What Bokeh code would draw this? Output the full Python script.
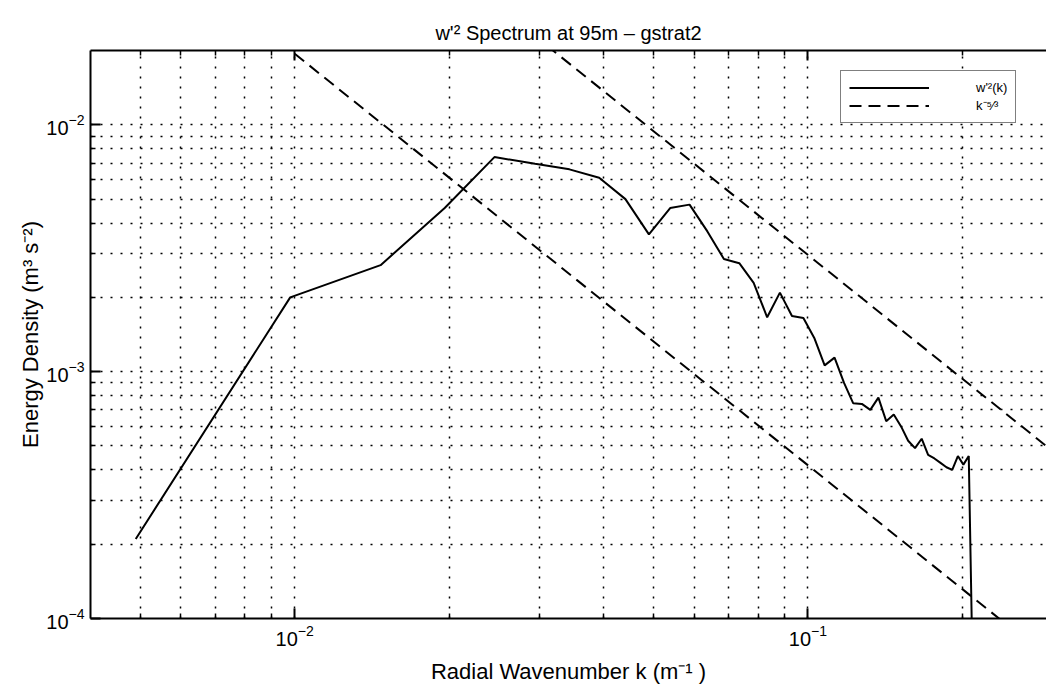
from bokeh.plotting import figure
from bokeh.models import (Range1d, FixedTicker, LogAxis, LogTickFormatter,
                          Legend, LegendItem)
from bokeh.embed import file_html
from bokeh.resources import INLINE

# Vertical velocity variance spectrum, 95 m level (run gstrat2)
wavenumber = [0.0049, 0.0098, 0.0147, 0.0196, 0.0245, 0.0294, 0.0343, 0.0392,
              0.0441, 0.0490, 0.0539, 0.0588, 0.0637, 0.0686, 0.0735, 0.0784,
              0.0833, 0.0882, 0.0931, 0.0980, 0.1029, 0.1078, 0.1127, 0.1176,
              0.1225, 0.1274, 0.1323, 0.1372, 0.1421, 0.1470, 0.1519, 0.1568,
              0.1617, 0.1666, 0.1715, 0.1764, 0.1813, 0.1862, 0.1911, 0.1960,
              0.2009, 0.2058, 0.2107]
energy = [2.1e-4, 2.0e-3, 2.7e-3, 4.6e-3, 7.4e-3, 6.95e-3, 6.6e-3, 6.1e-3,
          5.0e-3, 3.6e-3, 4.6e-3, 4.75e-3, 3.7e-3, 2.86e-3, 2.75e-3, 2.29e-3,
          1.66e-3, 2.09e-3, 1.68e-3, 1.65e-3, 1.37e-3, 1.06e-3, 1.14e-3, 9.0e-4,
          7.45e-4, 7.4e-4, 7.0e-4, 7.85e-4, 6.3e-4, 6.7e-4, 6.0e-4, 5.25e-4,
          4.9e-4, 5.35e-4, 4.6e-4, 4.45e-4, 4.27e-4, 4.1e-4, 4.0e-4, 4.55e-4,
          4.2e-4, 4.55e-4, 3.0e-5]

# k^-5/3 reference slopes (end points of each straight line)
ref_k = [0.01, 0.3]
ref_lower = [1.94e-2, 6.69e-5]
ref_upper = [1.38e-1, 4.76e-4]

x_major = [0.01, 0.1]
x_minor = [0.005, 0.006, 0.007, 0.008, 0.009,
           0.02, 0.03, 0.04, 0.05, 0.06, 0.07, 0.08, 0.09, 0.2]
y_major = [1e-4, 1e-3, 1e-2]
y_minor = [2e-4, 3e-4, 4e-4, 5e-4, 6e-4, 7e-4, 8e-4, 9e-4,
           2e-3, 3e-3, 4e-3, 5e-3, 6e-3, 7e-3, 8e-3, 9e-3]

FONT = "Liberation Sans"

p = figure(width=1046, height=692, x_axis_type="log", y_axis_type="log",
           x_range=Range1d(0.004, 0.2917), y_range=Range1d(1e-4, 0.02),
           output_backend="svg", toolbar_location=None,
           min_border_left=90, min_border_right=0,
           min_border_top=50, min_border_bottom=74)
p.outline_line_color = None
p.background_fill_color = "white"
p.border_fill_color = "white"

p.title.text = "w'\u00b2 Spectrum at 95m \u2013 gstrat2"
p.title.align = "center"
p.title.vertical_align = "top"
p.title.offset = 8
p.title.text_font = FONT
p.title.text_font_style = "normal"
p.title.text_font_size = "20px"
p.title.text_color = "black"

xticker = FixedTicker(ticks=x_major, minor_ticks=x_minor)
yticker = FixedTicker(ticks=y_major, minor_ticks=y_minor)


def style_axis(ax, ticker):
    ax.ticker = ticker
    ax.axis_line_color = "black"
    ax.axis_line_width = 2
    ax.major_tick_line_color = "black"
    ax.major_tick_line_width = 2
    ax.minor_tick_line_color = "black"
    ax.minor_tick_line_width = 1.5
    ax.major_tick_in = 10
    ax.major_tick_out = 0
    ax.minor_tick_in = 5
    ax.minor_tick_out = 0
    ax.major_label_text_font = FONT
    ax.major_label_text_font_size = "20px"
    ax.major_label_text_color = "black"
    ax.axis_label_text_font = FONT
    ax.axis_label_text_font_style = "normal"
    ax.axis_label_text_font_size = "22px"
    ax.axis_label_text_color = "black"


style_axis(p.xaxis[0], xticker)
style_axis(p.yaxis[0], yticker)
p.xaxis.formatter = LogTickFormatter()
p.yaxis.formatter = LogTickFormatter()
p.xaxis.axis_label = "Radial Wavenumber k (m\u207b\u00b9 )"
p.yaxis.axis_label = "Energy Density (m\u00b3 s\u207b\u00b2)"
p.xaxis.major_label_standoff = 6
p.yaxis.major_label_standoff = 6
p.xaxis.axis_label_standoff = 10
p.yaxis.axis_label_standoff = 0

# frame top edge with inward ticks, no labels
top_axis = LogAxis()
style_axis(top_axis, xticker)
top_axis.major_label_text_color = None
top_axis.major_label_standoff = 0
p.add_layout(top_axis, "above")

for grid, ticker in ((p.xgrid, xticker), (p.ygrid, yticker)):
    grid.ticker = ticker
    grid.grid_line_color = "black"
    grid.grid_line_width = 1.5
    grid.grid_line_dash = "2 8"
    grid.minor_grid_line_color = "black"
    grid.minor_grid_line_width = 1.5
    grid.minor_grid_line_dash = "2 8"

spec = p.line(wavenumber, energy, line_color="black", line_width=2)
lower = p.line(ref_k, ref_lower, line_color="black", line_width=2,
               line_dash="12 7")
upper = p.line(ref_k, ref_upper, line_color="black", line_width=2,
               line_dash="12 7")

legend = Legend(items=[LegendItem(label="w'\u00b2(k)", renderers=[spec]),
                       LegendItem(label="k\u207b\u2075\u2044\u00b3", renderers=[lower])],
                location=(750, 495), orientation="vertical",
                border_line_color="black", border_line_width=1.5,
                background_fill_color="white", background_fill_alpha=1.0,
                glyph_width=80, glyph_height=17, label_height=17,
                label_standoff=47, padding=8, spacing=0, margin=0,
                label_text_font=FONT, label_text_font_size="13px",
                label_text_color="black")
p.add_layout(legend)

open("out.html", "w").write(file_html(p, INLINE))
